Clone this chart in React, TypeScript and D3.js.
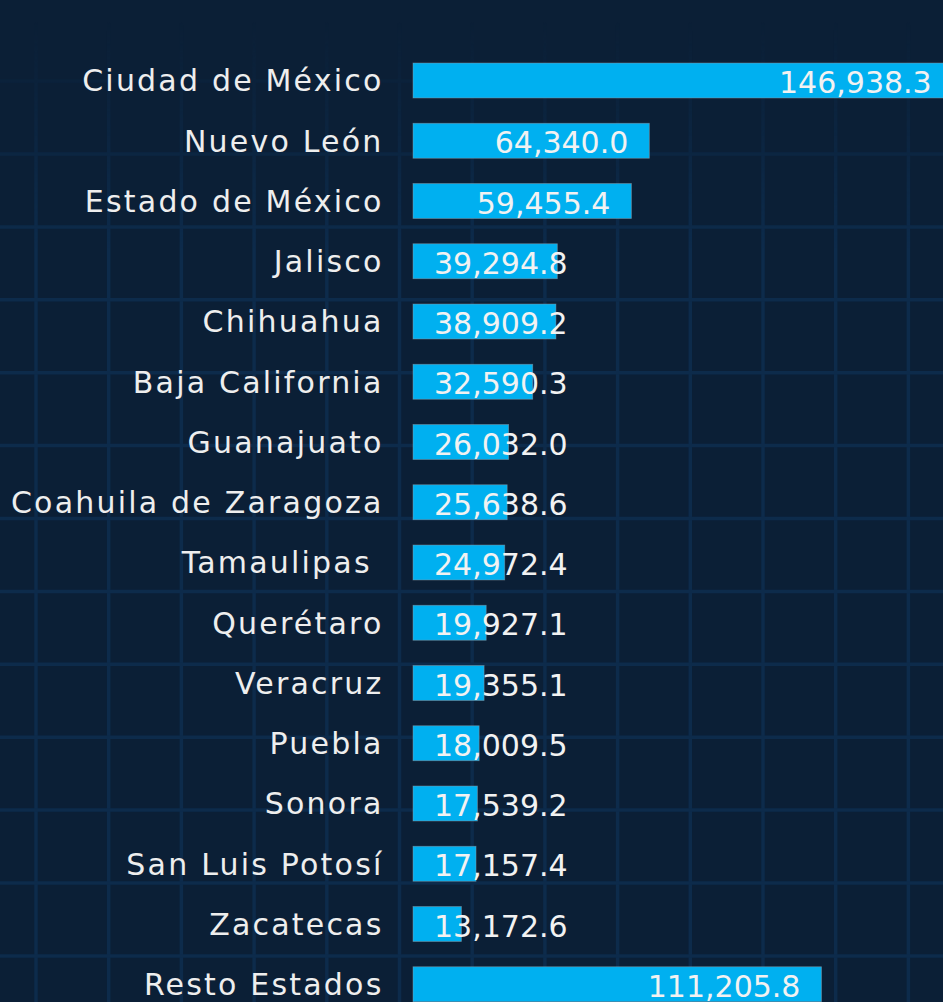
import React, { useEffect, useRef } from "react";
import * as d3 from "d3";

const states = [
  "Ciudad de México",
  "Nuevo León",
  "Estado de México",
  "Jalisco",
  "Chihuahua",
  "Baja California",
  "Guanajuato",
  "Coahuila de Zaragoza",
  "Tamaulipas ",
  "Querétaro",
  "Veracruz",
  "Puebla",
  "Sonora",
  "San Luis Potosí",
  "Zacatecas",
  "Resto Estados",
];

const values = [
  146938.3, 64340.0, 59455.4, 39294.8, 38909.2, 32590.3, 26032.0, 25638.6,
  24972.4, 19927.1, 19355.1, 18009.5, 17539.2, 17157.4, 13172.6, 111205.8,
];

const W = 943;
const H = 1002;
const FONT = "'DejaVu Sans', sans-serif";

export default function App() {
  const ref = useRef<SVGSVGElement>(null);

  useEffect(() => {
    const svg = d3.select(ref.current);
    svg.selectAll("*").remove();

    svg.append("rect").attr("width", W).attr("height", H).attr("fill", "#0b1f36");

    const defs = svg.append("defs");
    const grad = defs
      .append("linearGradient")
      .attr("id", "fadeGrad")
      .attr("gradientUnits", "userSpaceOnUse")
      .attr("x1", 0)
      .attr("y1", 22)
      .attr("x2", 0)
      .attr("y2", 250);
    grad.append("stop").attr("offset", 0).attr("stop-color", "#000");
    grad.append("stop").attr("offset", 1).attr("stop-color", "#fff");
    defs
      .append("mask")
      .attr("id", "fadeMask")
      .attr("maskUnits", "userSpaceOnUse")
      .attr("x", 0)
      .attr("y", 0)
      .attr("width", W)
      .attr("height", H)
      .append("rect")
      .attr("width", W)
      .attr("height", H)
      .attr("fill", "url(#fadeGrad)");

    // decorative background grid
    const grid = svg.append("g").attr("mask", "url(#fadeMask)");
    const vx = d3.range(-36.7, W + 10, 72.7);
    const hy = d3.range(8.2, H + 10, 72.9);
    grid
      .selectAll("line.v")
      .data(vx)
      .join("line")
      .attr("x1", (d) => d)
      .attr("x2", (d) => d)
      .attr("y1", 0)
      .attr("y2", H)
      .attr("stroke", "#0d2b4b")
      .attr("stroke-width", 3.5);
    grid
      .selectAll("line.h")
      .data(hy)
      .join("line")
      .attr("x1", 0)
      .attr("x2", W)
      .attr("y1", (d) => d)
      .attr("y2", (d) => d)
      .attr("stroke", "#0d2b4b")
      .attr("stroke-width", 3.5);

    const y = d3
      .scaleBand<string>()
      .domain(states)
      .range([50.375, 1014.375])
      .paddingInner(0.42)
      .paddingOuter(0.21);
    const x = d3.scaleLinear().domain([0, 146938.3]).range([413, 952.7]);

    const data = states.map((s, i) => ({ s, v: values[i] }));

    svg
      .append("g")
      .selectAll("rect")
      .data(data)
      .join("rect")
      .attr("x", x(0))
      .attr("y", (d) => y(d.s)!)
      .attr("width", (d) => x(d.v) - x(0))
      .attr("height", y.bandwidth())
      .attr("fill", "#00b0f0")
      .attr("stroke", "rgba(150,160,170,0.55)")
      .attr("stroke-width", 0.8);

    // category labels
    svg
      .append("g")
      .selectAll("text")
      .data(data)
      .join("text")
      .attr("x", 383.5)
      .attr("y", (d) => y(d.s)! + y.bandwidth() / 2)
      .attr("dy", 10.9)
      .attr("text-anchor", "end")
      .attr("font-family", FONT)
      .attr("font-size", 30)
      .attr("letter-spacing", 2.2)
      .attr("fill", "#eeeeee")
      .style("white-space", "pre")
      .text((d) => d.s);

    // value labels
    const fmt = d3.format(",.1f");
    const pad = 21;
    const vl = svg
      .append("g")
      .selectAll("text")
      .data(data)
      .join("text")
      .attr("y", (d) => y(d.s)! + y.bandwidth() / 2)
      .attr("dy", 12.6)
      .attr("font-family", FONT)
      .attr("font-size", 30)
      .attr("fill", "#f2f2f2")
      .text((d) => fmt(d.v));

    vl.each(function (d) {
      const el = this as SVGTextElement;
      const tw = el.getComputedTextLength();
      const bw = x(d.v) - x(0);
      if (tw + 2 * pad <= bw) {
        d3.select(el).attr("x", x(d.v) - pad).attr("text-anchor", "end");
      } else {
        d3.select(el).attr("x", x(0) + pad).attr("text-anchor", "start");
      }
    });
  }, []);

  return (
    <div style={{ position: "fixed", left: 0, top: 0, width: W, height: H, overflow: "hidden" }}>
      <svg ref={ref} width={W} height={H} style={{ display: "block" }} />
    </div>
  );
}
